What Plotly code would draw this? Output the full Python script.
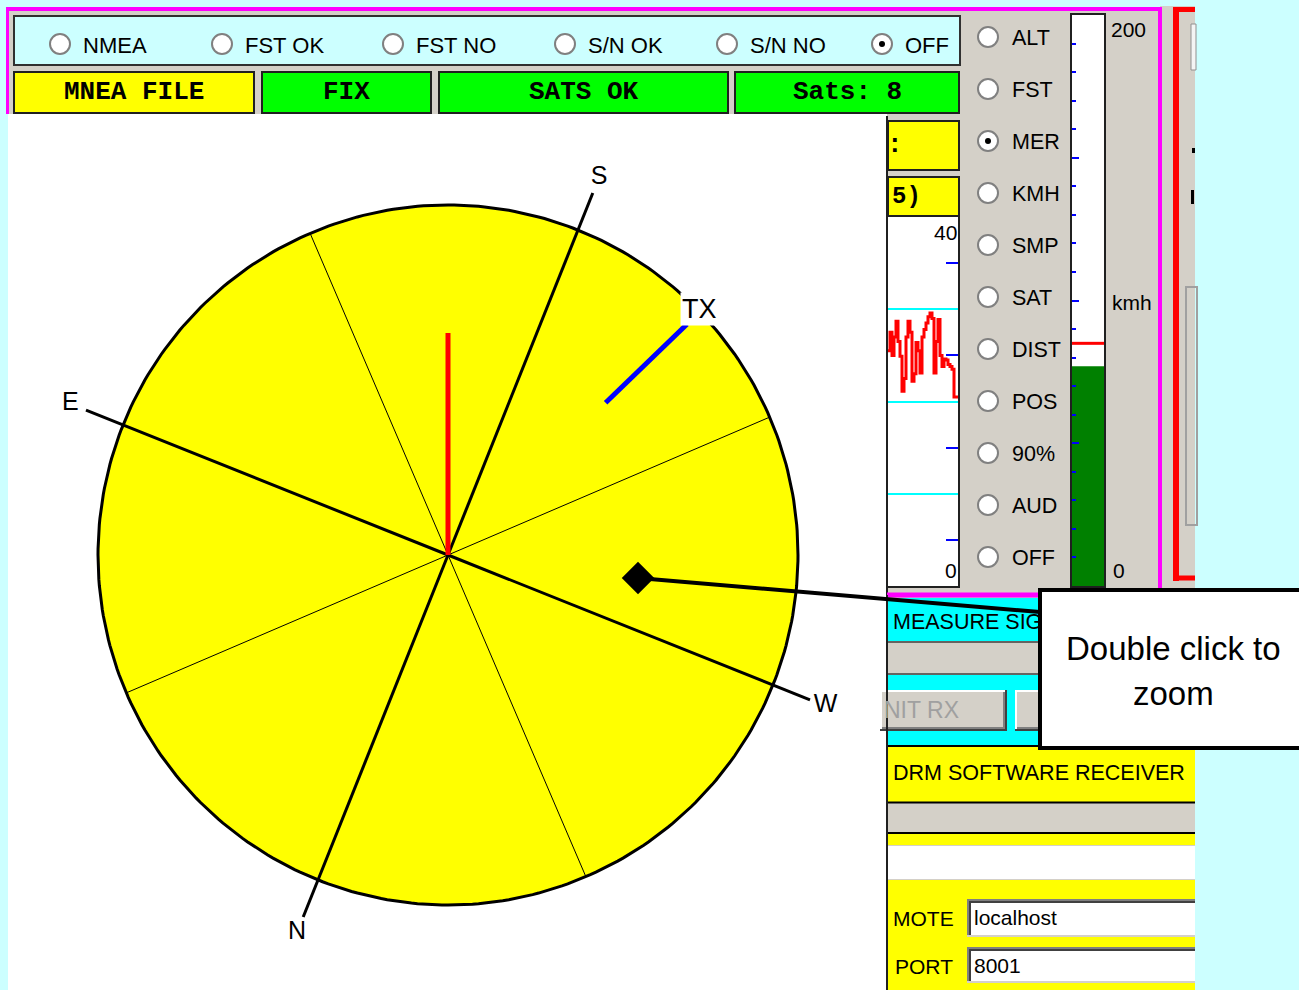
import numpy as np
import plotly.graph_objects as go

# ---------------- data ----------------
top_modes = ["NMEA", "FST OK", "FST NO", "S/N OK", "S/N NO", "OFF"]
top_mode_selected = "OFF"
status_labels = ["MNEA FILE", "FIX", "SATS OK", "Sats: 8"]
side_modes = ["ALT", "FST", "MER", "KMH", "SMP", "SAT", "DIST", "POS", "90%", "AUD", "OFF"]
side_mode_selected = "MER"

compass_labels = ["S", "E", "N", "W"]
compass_angles = [68.2, 158.2, 248.2, 338.2]   # degrees, counter-clockwise from screen right
sector_angles = [23.2, 113.2, 203.2, 293.2]
heading_angle = 90.0
heading_length = 0.634                          # fraction of dial radius
tx_angle = 44.0
tx_span = [0.626, 0.949]                        # fraction of dial radius

signal_values = [25.5, 27.5, 25.0, 27.0, 28.7, 26.5, 24.9, 21.1, 22.5, 27.0,
                 28.7, 27.5, 22.2, 23.0, 26.4, 25.5, 23.1, 27.0, 27.8, 28.5,
                 29.2, 29.6, 29.0, 23.1, 26.5, 28.9, 25.0, 23.8, 24.6, 24.5,
                 24.0, 23.8, 23.5, 20.5, 20.5, 20.5]
signal_axis_labels = ["40", "0"]
signal_axis_max = 40

speed_value = 77
speed_peak = 85
speed_axis_max = 200
speed_axis_labels = ["200", "kmh", "0"]

panel_labels = ["MEASURE SIG", "NIT RX", "DRM SOFTWARE RECEIVER", "MOTE", "PORT"]
field_values = ["localhost", "8001"]
callout_lines = ["Double click to", "zoom"]

# ---------------- styles ----------------
W, H = 1299, 990
GRAY = "#d4d0c8"
LCYAN = "#ccffff"
CYAN = "#00ffff"
YELLOW = "#ffff00"
GREEN = "#00ff00"
MAGENTA = "#ff00ff"
RED = "#ff0000"
UI = "Liberation Sans, Arial, sans-serif"
SANS = "Liberation Sans, Arial, sans-serif"
MONO = "Liberation Mono, Courier New, monospace"

shapes = []
annotations = []


def rect(x0, y0, x1, y1, fill=None, line=None, lw=0, layer="below"):
    shapes.append(dict(type="rect", xref="x", yref="y", x0=x0, y0=y0, x1=x1, y1=y1,
                       fillcolor=fill or "rgba(0,0,0,0)",
                       line=dict(color=line or "rgba(0,0,0,0)", width=lw), layer=layer))


def seg(x0, y0, x1, y1, color, lw, layer="below"):
    shapes.append(dict(type="line", xref="x", yref="y", x0=x0, y0=y0, x1=x1, y1=y1,
                       line=dict(color=color, width=lw), layer=layer))


def circ(cx, cy, r, fill, line=None, lw=0, layer="below"):
    shapes.append(dict(type="circle", xref="x", yref="y", x0=cx - r, x1=cx + r,
                       y0=cy - r, y1=cy + r, fillcolor=fill,
                       line=dict(color=line or "rgba(0,0,0,0)", width=lw), layer=layer))


def text(x, y, s, size, family=UI, color="black", anchor="left", weight="normal", bg=None):
    annotations.append(dict(x=x, y=y, xref="x", yref="y", text=s, showarrow=False,
                            xanchor=anchor, yanchor="middle",
                            font=dict(size=size, family=family, color=color, weight=weight),
                            bgcolor=bg, borderpad=1))


def radio(cx, cy, selected):
    circ(cx, cy, 10, "white", "#808080", 2)
    if selected:
        circ(cx, cy, 3, "black")


def button(x0, y0, x1, y1):
    rect(x0, y0, x1, y1, GRAY)
    seg(x0, y0 + 1, x1, y0 + 1, "white", 2)
    seg(x0 + 1, y0, x0 + 1, y1, "white", 2)
    seg(x0, y1 - 1, x1, y1 - 1, "#404040", 2)
    seg(x1 - 1, y0, x1 - 1, y1, "#404040", 2)
    seg(x0 + 2, y1 - 3, x1 - 2, y1 - 3, "#808080", 2)
    seg(x1 - 3, y0 + 2, x1 - 3, y1 - 2, "#808080", 2)


def textbox(x0, y0, x1, y1):
    rect(x0, y0, x1, y1, "white")
    seg(x0, y0 + 1, x1, y0 + 1, "#808080", 2)
    seg(x0 + 1, y0, x0 + 1, y1, "#808080", 2)
    seg(x0 + 2, y0 + 3, x1, y0 + 3, "#404040", 2)
    seg(x0 + 3, y0 + 2, x0 + 3, y1 - 2, "#404040", 2)
    seg(x0, y1 - 1, x1, y1 - 1, GRAY, 2)


# ---------------- window background ----------------
rect(8, 9, 1160, 595, GRAY)
rect(1160, 6, 1195, 590, GRAY)
rect(887, 595, 1195, 990, GRAY)
seg(6, 9, 1162, 9, MAGENTA, 4)
seg(7.5, 7, 7.5, 114, MAGENTA, 3)
seg(1160, 7, 1160, 597, MAGENTA, 4)
# red frame on the far right
seg(1176, 7, 1176, 581, RED, 6)
seg(1173, 9.5, 1195, 9.5, RED, 5)
seg(1173, 578, 1195, 578, RED, 5)
rect(1191, 24, 1196, 70, "#f4f4f4", "#909090", 1)
rect(1192, 148, 1195, 153, "black")
rect(1191, 190, 1194, 204, "black")
rect(1186, 287, 1197, 525, None, "#a0a0a0", 2)

# top radio group
rect(14, 16, 960, 65, LCYAN, "#303030", 2)
top_x = [60, 222, 393, 565, 727, 882]
for lab, x in zip(top_modes, top_x):
    radio(x, 44, lab == top_mode_selected)
    text(x + 21, 45, lab, 22)

# status boxes
status_spans = [(14, 254), (262, 431), (439, 728), (735, 959)]
status_fill = [YELLOW, GREEN, GREEN, GREEN]
for lab, (x0, x1), fc in zip(status_labels, status_spans, status_fill):
    rect(x0, 72, x1, 113, fc, "#202020", 2)
    text((x0 + x1) / 2, 92, lab, 26, MONO, anchor="center", weight="bold")

# white dial area
rect(8, 114, 887, 990, "white")
seg(887, 116, 887, 990, "#202020", 2)

# small yellow boxes and graph frame
rect(888, 121, 959, 170, YELLOW, "#202020", 2)
text(885, 145, ":", 26, MONO, anchor="left", weight="bold")
rect(888, 177, 959, 216, YELLOW, "#202020", 2)
text(890, 196, "5)", 24, MONO, anchor="left", weight="bold")
rect(888, 217, 958, 586, "white")
rect(1072, 15, 1104, 586, "white")

# side radio column
for i, lab in enumerate(side_modes):
    y = 37 + 52 * i
    radio(988, y, lab == side_mode_selected)
    text(1010, y + 1, lab, 21.5)

# graph / gauge labels
text(959, 232, signal_axis_labels[0], 21, SANS, anchor="right")
text(959, 570, signal_axis_labels[1], 21, SANS, anchor="right")
text(1109, 29, speed_axis_labels[0], 21, SANS)
text(1110, 302, speed_axis_labels[1], 21, SANS)
text(1111, 570, speed_axis_labels[2], 21, SANS)

# lower right panel
seg(887, 595, 1162, 595, MAGENTA, 5)
rect(888, 598, 1195, 641, CYAN)
seg(888, 642, 1195, 642, "#404040", 1.5)
seg(888, 674, 1195, 674, "#404040", 1.5)
rect(888, 675, 1195, 745, CYAN)
seg(888, 746, 1195, 746, "black", 2)
rect(888, 747, 1195, 802, YELLOW)
seg(888, 802.5, 1195, 802.5, "black", 2)
seg(888, 833, 1195, 833, "black", 2)
rect(888, 834, 1195, 845, YELLOW)
rect(888, 846, 1195, 879, "white")
rect(888, 880, 1195, 990, YELLOW)
button(880, 690, 1007, 731)
button(1015, 690, 1110, 731)
textbox(967, 899, 1195, 937)
textbox(967, 947, 1195, 983)
seg(887, 595, 887, 990, "#202020", 2)

text(891, 622, panel_labels[0], 21.5)
text(882, 710, panel_labels[1], 23, color="#a0a0a0")
text(891, 773, panel_labels[2], 21.5)
text(891, 918, panel_labels[3], 21)
text(893, 966, panel_labels[4], 21)
text(972, 917, field_values[0], 21, SANS)
text(972, 965, field_values[1], 21, SANS)

# callout
seg(638, 578, 1040, 612, "black", 4, layer="above")
rect(1040, 590, 1320, 748, "white", "black", 4, layer="above")
text(1173, 648, callout_lines[0], 33, SANS, anchor="center")
text(1173, 693, callout_lines[1], 33, SANS, anchor="center")

# ---------------- dial (pixel axes) ----------------
CX, CY, R = 448, 555, 350


def polar(r, ang):
    a = np.deg2rad(ang)
    return CX + R * r * np.cos(a), CY - R * r * np.sin(a)


t = np.linspace(0, 360, 361)
cxs, cys = polar(1.0, t)
fig = go.Figure()
fig.add_trace(go.Scatter(x=cxs, y=cys, mode="lines", fill="toself", fillcolor=YELLOW,
                         line=dict(color="black", width=3), hoverinfo="skip"))
for a in sector_angles:
    x1, y1 = polar(1.0, a)
    fig.add_trace(go.Scatter(x=[CX, x1], y=[CY, y1], mode="lines",
                             line=dict(color="black", width=1), hoverinfo="skip"))
for a in compass_angles:
    x1, y1 = polar(1.114, a)
    fig.add_trace(go.Scatter(x=[CX, x1], y=[CY, y1], mode="lines",
                             line=dict(color="black", width=3), hoverinfo="skip"))
lx, ly = polar(1.162, np.array(compass_angles))
fig.add_trace(go.Scatter(x=lx, y=ly, mode="text", text=compass_labels,
                         textfont=dict(size=25, family=SANS, color="black"),
                         textposition="middle center", hoverinfo="skip"))
hx, hy = polar(heading_length, heading_angle)
fig.add_trace(go.Scatter(x=[CX, hx], y=[CY, hy], mode="lines",
                         line=dict(color=RED, width=5), hoverinfo="skip"))
tx0, ty0 = polar(tx_span[0], tx_angle)
tx1, ty1 = polar(tx_span[1], tx_angle)
fig.add_trace(go.Scatter(x=[tx0, tx1], y=[ty0, ty1], mode="lines",
                         line=dict(color="#0000ff", width=5), hoverinfo="skip"))
tlx, tly = polar(1.005, tx_angle + 0.3)
text(float(tlx), float(tly), "TX", 27, SANS, anchor="center", bg="white")
fig.add_trace(go.Scatter(x=[638], y=[578], mode="markers",
                         marker=dict(symbol="diamond", size=25, color="black"), hoverinfo="skip"))

# ---------------- signal strip chart ----------------
fig.add_trace(go.Scatter(x=list(range(len(signal_values))), y=signal_values, mode="lines",
                         line=dict(color=RED, width=3, shape="hv"), xaxis="x2", yaxis="y2",
                         hoverinfo="skip"))

# ---------------- speed gauge ----------------
fig.add_trace(go.Bar(x=[0], y=[speed_value], width=[1.0], marker=dict(color="#008000", line=dict(width=0)),
                     xaxis="x3", yaxis="y3", hoverinfo="skip"))
fig.add_trace(go.Scatter(x=[-0.5, 0.5], y=[speed_peak, speed_peak], mode="lines",
                         line=dict(color=RED, width=3), xaxis="x3", yaxis="y3", hoverinfo="skip"))

hidden = dict(showgrid=False, zeroline=False, showticklabels=False, ticks="")
fig.update_layout(
    width=W, height=H,
    margin=dict(l=0, r=0, t=0, b=0, pad=0),
    paper_bgcolor=LCYAN, plot_bgcolor="rgba(0,0,0,0)",
    showlegend=False, hovermode=False,
    xaxis=dict(range=[0, W], domain=[0, 1], **hidden),
    yaxis=dict(range=[H, 0], domain=[0, 1], **hidden),
    xaxis2=dict(domain=[888 / W, 958 / W], range=[0, len(signal_values) - 1], anchor="y2",
                showgrid=False, zeroline=False, showticklabels=False, ticks="",
                showline=True, linecolor="#202020", linewidth=2),
    yaxis2=dict(domain=[(H - 586) / H, (H - 217) / H], range=[0, signal_axis_max], anchor="x2",
                side="right", showline=True, linecolor="#202020", linewidth=2,
                showgrid=True, gridcolor=CYAN, gridwidth=2, dtick=10, tick0=0,
                zeroline=False, showticklabels=False, ticks="",
                minor=dict(ticks="inside", tick0=5, dtick=10, ticklen=12, tickwidth=2,
                           tickcolor="#0000ff", showgrid=False)),
    xaxis3=dict(domain=[1072 / W, 1104 / W], range=[-0.5, 0.5], anchor="y3",
                showgrid=False, zeroline=False, showticklabels=False, ticks="",
                showline=True, mirror=True, linecolor="#202020", linewidth=2),
    yaxis3=dict(domain=[(H - 586) / H, (H - 15) / H], range=[0, speed_axis_max], anchor="x3",
                showgrid=False, zeroline=False, showticklabels=False,
                ticks="inside", dtick=50, tick0=0, ticklen=7, tickwidth=2, tickcolor="#0000ff",
                minor=dict(ticks="inside", dtick=10, ticklen=4, tickwidth=2, tickcolor="#0000ff"),
                showline=True, mirror=True, linecolor="#202020", linewidth=2),
    shapes=shapes,
    annotations=annotations,
)

fig.write_html("out.html", config={"displayModeBar": False},
               post_script="document.body.style.margin='0';document.body.style.overflow='hidden';")
